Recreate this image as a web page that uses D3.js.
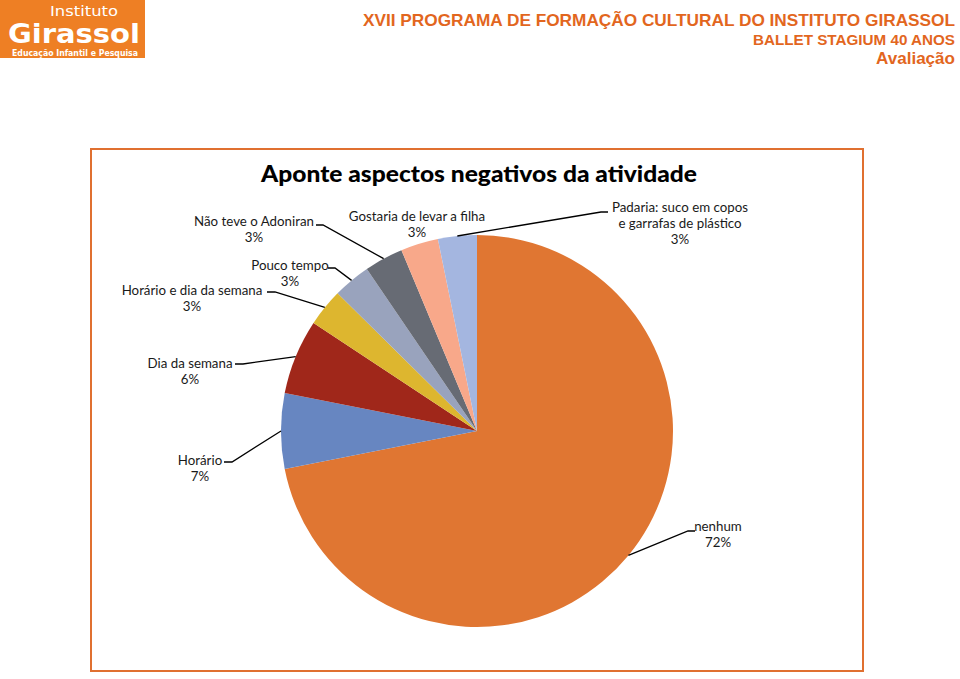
<!DOCTYPE html>
<html>
<head>
<meta charset="utf-8">
<script src="https://cdn.jsdelivr.net/npm/d3@7"></script>
<style>
  html, body { margin: 0; padding: 0; background: #fff; }
  svg { display: block; }
</style>
</head>
<body>
<svg id="chart" width="960" height="679"></svg>
<script>
// ---- data ----
const categories = [
  "nenhum",
  "Horário",
  "Dia da semana",
  "Horário e dia da semana",
  "Pouco tempo",
  "Não teve o Adoniran",
  "Gostaria de levar a filha",
  "Padaria: suco em copos e garrafas de plástico"
];
const values = [71.9, 6.2, 6.2, 3.1, 3.1, 3.2, 3.1, 3.2];
const percentLabels = ["72%", "7%", "6%", "3%", "3%", "3%", "3%", "3%"];
const chartTitle = "Aponte aspectos negativos da atividade";
const headerLines = ["XVII PROGRAMA DE FORMAÇÃO CULTURAL DO INSTITUTO GIRASSOL", "BALLET STAGIUM 40 ANOS", "Avaliação"];
const logoLines = ["Instituto", "Girassol", "Educação Infantil e Pesquisa"];

// ---- styles / layout ----
const colors = ["#E07632", "#6786C1", "#A0271A", "#DDB62F", "#99A3BD", "#676B74", "#F8A88A", "#A4B6E0"];
const labelFont = "Lato, 'DejaVu Sans', sans-serif";
// label layout: text center x, first baseline y, elbow point and text-side end of leader
const labelLayout = [
  { lines: ["nenhum"], cx: 718, y: 531, leader: { ex: 688, ey: 531, tx: 695 } },
  { lines: ["Horário"], cx: 200, y: 465, leader: { ex: 232, ey: 462, tx: 224 } },
  { lines: ["Dia da semana"], cx: 190, y: 368, leader: { ex: 243, ey: 364, tx: 235 } },
  { lines: ["Horário e dia da semana"], cx: 192, y: 295, leader: { ex: 275, ey: 292, tx: 267 } },
  { lines: ["Pouco tempo"], cx: 290, y: 270, leader: { ex: 335, ey: 268, tx: 328 } },
  { lines: ["Não teve o Adoniran"], cx: 254, y: 226, leader: { ex: 323, ey: 225, tx: 316 } },
  { lines: ["Gostaria de levar a filha"], cx: 417, y: 221, leader: null },
  { lines: ["Padaria: suco em copos", "e garrafas de plástico"], cx: 680, y: 212, leader: { ex: 601, ey: 212, tx: 608 } }
];

const svg = d3.select("#chart");

// ---- logo ----
const logo = svg.append("g").attr("font-family", "'DejaVu Sans', sans-serif").attr("fill", "#fff");
logo.append("rect").attr("x", 0).attr("y", 0).attr("width", 145).attr("height", 58).attr("fill", "#EE7F24");
logo.append("text").attr("x", 84).attr("y", 15.5).attr("text-anchor", "middle")
  .attr("font-size", 13.5).attr("textLength", 68).attr("lengthAdjust", "spacingAndGlyphs")
  .text(logoLines[0]);
logo.append("text").attr("x", 74).attr("y", 42.5).attr("text-anchor", "middle")
  .attr("font-weight", "bold").attr("font-size", 26)
  .attr("textLength", 132).attr("lengthAdjust", "spacingAndGlyphs")
  .text(logoLines[1]);
logo.append("text").attr("x", 75).attr("y", 56).attr("text-anchor", "middle")
  .attr("font-weight", "bold").attr("font-size", 8.5)
  .attr("textLength", 126).attr("lengthAdjust", "spacingAndGlyphs")
  .text(logoLines[2]);

// ---- header ----
const headerColor = "#E2661E";
const hdr = [
  { size: 16.5, y: 26, len: 592 },
  { size: 14.5, y: 45, len: 202 },
  { size: 17, y: 64, len: 79 }
];
headerLines.forEach((t, i) => {
  svg.append("text").attr("x", 955).attr("y", hdr[i].y).attr("text-anchor", "end")
    .attr("font-family", "'Liberation Sans', Arial, sans-serif").attr("font-weight", "bold")
    .attr("font-size", hdr[i].size).attr("fill", headerColor)
    .attr("textLength", hdr[i].len).attr("lengthAdjust", "spacingAndGlyphs")
    .text(t);
});

// ---- chart box ----
svg.append("rect").attr("x", 91).attr("y", 149).attr("width", 772).attr("height", 522)
  .attr("fill", "#fff").attr("stroke", "#E07030").attr("stroke-width", 2);

svg.append("text").attr("x", 479).attr("y", 182).attr("text-anchor", "middle")
  .attr("font-family", "Lato, 'Noto Sans', sans-serif").attr("font-weight", "900")
  .attr("font-size", 23).attr("fill", "#000")
  .attr("textLength", 436).attr("lengthAdjust", "spacingAndGlyphs")
  .text(chartTitle);

// ---- pie ----
const cx = 477, cy = 431, R = 196;
const pie = d3.pie().sort(null).value(d => d.v);
const data = categories.map((c, i) => ({ c, v: values[i], p: percentLabels[i], i }));
const arcs = pie(data);
const arc = d3.arc().innerRadius(0).outerRadius(R);

const g = svg.append("g").attr("transform", `translate(${cx},${cy})`);
g.selectAll("path").data(arcs).join("path")
  .attr("d", arc)
  .attr("fill", d => colors[d.data.i])
  .attr("stroke", "none");

// ---- leaders & labels ----
const lab = svg.append("g").attr("font-family", labelFont).attr("font-size", 13.3).attr("fill", "#1a1a1a");
arcs.forEach((a, i) => {
  const L = labelLayout[i];
  const mid = (a.startAngle + a.endAngle) / 2;
  const px = cx + R * Math.sin(mid), py = cy - R * Math.cos(mid);
  if (L.leader) {
    lab.append("polyline")
      .attr("points", `${px},${py} ${L.leader.ex},${L.leader.ey} ${L.leader.tx},${L.leader.ey}`)
      .attr("fill", "none").attr("stroke", "#000").attr("stroke-width", 1.3);
  }
  const lines = L.lines.concat([a.data.p]);
  lines.forEach((t, k) => {
    lab.append("text").attr("x", L.cx).attr("y", L.y + k * 16)
      .attr("text-anchor", "middle").text(t);
  });
});
</script>
</body>
</html>
